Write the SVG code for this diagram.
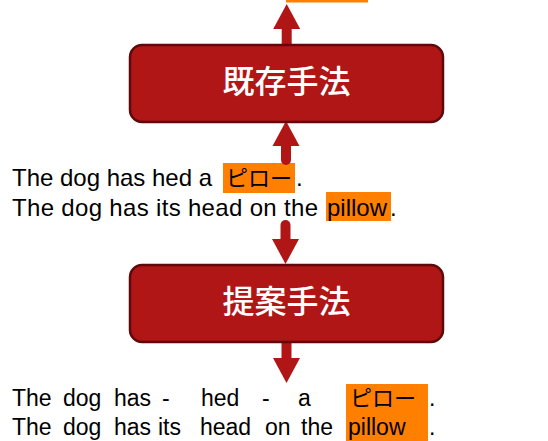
<svg xmlns="http://www.w3.org/2000/svg" width="548" height="441" viewBox="0 0 548 441">
<style>
.t{font-family:"Liberation Sans","Noto Sans CJK JP",sans-serif;font-size:24px;fill:#000}
.b{font-family:"Liberation Sans","Noto Sans CJK JP",sans-serif;font-size:23px;fill:#000}
.j{font-family:"Noto Sans CJK JP",sans-serif;font-size:22px;fill:#000}
.hl{fill:#FF7F00}
.box{fill:#B01616;stroke:#5E0A0A;stroke-width:2.5}
.lbl{font-family:"Noto Sans CJK JP",sans-serif;font-size:32px;font-weight:500;fill:#fff;text-anchor:middle}
.arr{stroke:#B01616;stroke-width:10;fill:none}
</style>
<defs>
<marker id="head" markerUnits="userSpaceOnUse" markerWidth="26" markerHeight="28" refX="0" refY="13.5" orient="auto" overflow="visible">
<path d="M0,0 L25,13.5 L0,27 Z" fill="#B01616"/>
</marker>
</defs>
<g id="highlights">
<rect class="hl" x="286" y="0" width="82" height="2.5"/>
<rect class="hl" x="223" y="163" width="72" height="30"/>
<rect class="hl" x="326" y="192" width="65" height="29"/>
<rect class="hl" x="346" y="384" width="82" height="57"/>
</g>
<g id="text-top">
<text class="t" x="12" y="186" textLength="200" lengthAdjust="spacing">The dog has hed a</text>
<text class="j" x="226" y="186" textLength="66" lengthAdjust="spacing">ピロー</text>
<text class="t" x="296" y="186">.</text>
<text class="t" x="12" y="216" textLength="306" lengthAdjust="spacing">The dog has its head on the</text>
<text class="t" x="327" y="216">pillow</text>
<text class="t" x="390" y="216">.</text>
</g>
<g id="text-bottom">
<text class="b" x="12" y="406">The</text>
<text class="b" x="63" y="406">dog</text>
<text class="b" x="114" y="406">has</text>
<text class="b" x="162" y="406">-</text>
<text class="b" x="201" y="406">hed</text>
<text class="b" x="262" y="406">-</text>
<text class="b" x="298" y="406">a</text>
<text class="j" x="350" y="406" textLength="66" lengthAdjust="spacing">ピロー</text>
<text class="b" x="429" y="406">.</text>
<text class="b" x="12" y="435">The</text>
<text class="b" x="63" y="435">dog</text>
<text class="b" x="114" y="435">has</text>
<text class="b" x="158" y="435">its</text>
<text class="b" x="200" y="435">head</text>
<text class="b" x="265" y="435">on</text>
<text class="b" x="301" y="435">the</text>
<text class="b" x="348" y="435">pillow</text>
<text class="b" x="429" y="435">.</text>
</g>
<g id="connectors">
<line class="arr" x1="286.7" y1="46" x2="286.7" y2="29" marker-end="url(#head)"/>
<line class="arr" x1="286" y1="160" x2="286" y2="146" stroke-linecap="round" marker-end="url(#head)"/>
<line class="arr" x1="285.5" y1="225" x2="285.5" y2="239" stroke-linecap="round" marker-end="url(#head)"/>
<line class="arr" x1="286.5" y1="342" x2="286.5" y2="358" marker-end="url(#head)"/>
</g>
<g id="node-existing">
<rect class="box" x="130" y="45" width="313" height="77" rx="12"/>
<text class="lbl" x="286.5" y="93">既存手法</text>
</g>
<g id="node-proposed">
<rect class="box" x="130" y="265" width="313" height="77" rx="12"/>
<text class="lbl" x="286.5" y="313">提案手法</text>
</g>
</svg>
